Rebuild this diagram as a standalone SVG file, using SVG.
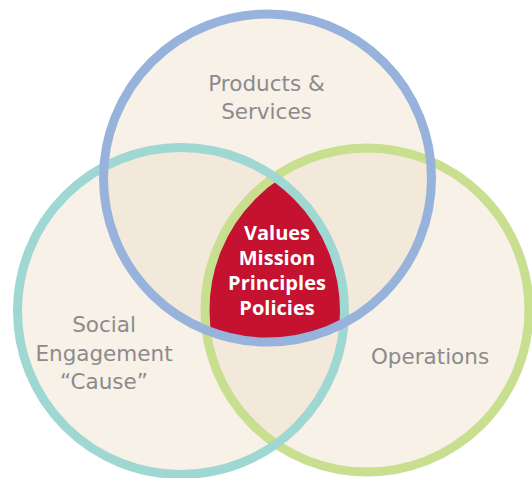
<svg xmlns="http://www.w3.org/2000/svg" width="532" height="478" viewBox="0 0 532 478">
<defs>
<style>
.fill{fill:#F8F1E7}
.ov{fill:#F2E9DA}
.ring{fill:none;stroke-width:9}
.lbl{font-family:"DejaVu Sans","Open Sans","Liberation Sans",sans-serif;font-size:21.5px;fill:#8B8B8D;text-anchor:middle}
.core{font-family:"Open Sans","Noto Sans","Liberation Sans",sans-serif;font-size:20px;font-weight:bold;fill:#FFFFFF;text-anchor:middle}
</style>
<clipPath id="cBlue"><circle cx="267.5" cy="178" r="164"/></clipPath>
<clipPath id="cTeal"><circle cx="181" cy="311" r="163.5"/></clipPath>
<clipPath id="cGreen"><circle cx="367" cy="310" r="162"/></clipPath>
</defs>
<rect width="532" height="478" fill="#FFFFFF"/>
<g id="fills">
<circle class="fill" cx="267.5" cy="178" r="164"/>
<circle class="fill" cx="181" cy="311" r="163.5"/>
<circle class="fill" cx="367" cy="310" r="162"/>
<g clip-path="url(#cBlue)"><circle class="ov" cx="181" cy="311" r="163.5"/><circle class="ov" cx="367" cy="310" r="162"/></g>
<g clip-path="url(#cTeal)"><circle class="ov" cx="367" cy="310" r="162"/></g>
</g>
<g id="core">
<g clip-path="url(#cTeal)"><g clip-path="url(#cGreen)"><circle cx="267.5" cy="178" r="164" fill="#C41230"/></g></g>
</g>
<g id="rings">
<circle id="operations-ring" class="ring" cx="367" cy="310" r="162" stroke="#C8DF8F"/>
<circle id="social-ring" class="ring" cx="181" cy="311" r="163.5" stroke="#9FD8D2"/>
<circle id="products-ring" class="ring" cx="267.5" cy="178" r="164" stroke="#97B3DC"/>
</g>
<g id="products">
<text class="lbl" x="266.5" y="91">Products &amp;</text>
<text class="lbl" x="266.5" y="118.5">Services</text>
</g>
<g id="social">
<text class="lbl" x="104" y="332">Social</text>
<text class="lbl" x="104" y="360.5">Engagement</text>
<text class="lbl" x="104" y="389">“Cause”</text>
</g>
<g id="operations">
<text class="lbl" x="430" y="364">Operations</text>
</g>
<g id="values">
<text class="core" x="277" y="240">Values</text>
<text class="core" x="277" y="265">Mission</text>
<text class="core" x="277" y="290">Principles</text>
<text class="core" x="277" y="315">Policies</text>
</g>
</svg>
